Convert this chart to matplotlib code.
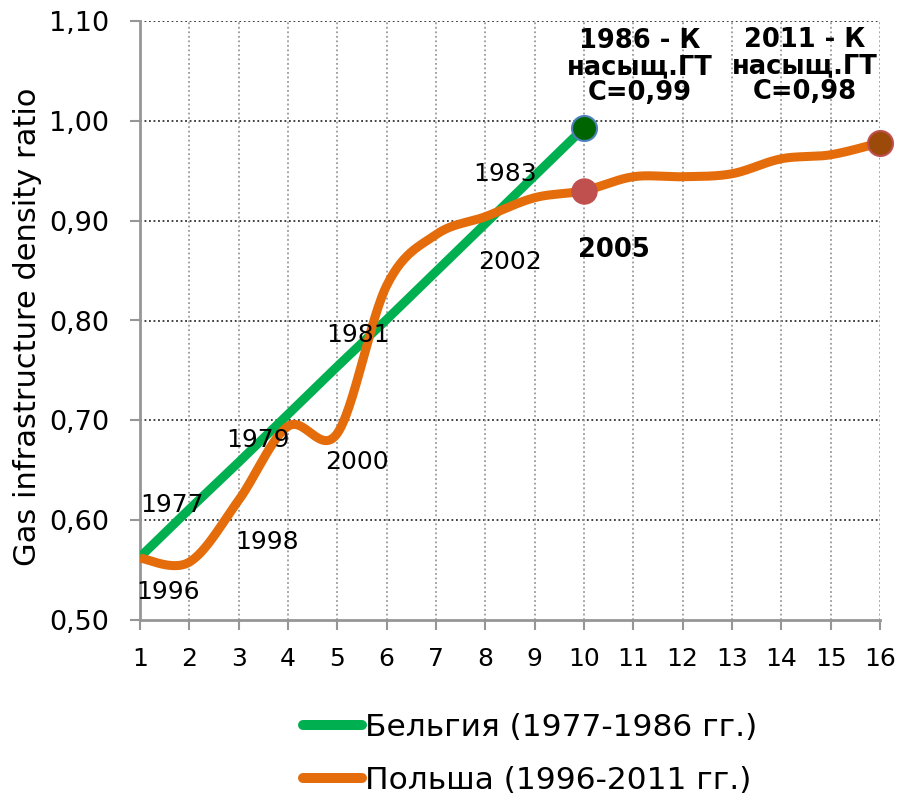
import numpy as np
import matplotlib
matplotlib.use("Agg")
import matplotlib.pyplot as plt
from matplotlib.lines import Line2D
from matplotlib.ticker import FuncFormatter, MultipleLocator

plt.rcParams['font.family'] = ['DejaVu Sans']

# ---- data ----
belgium_x = [1, 2, 3, 4, 5, 6, 7, 8, 9, 10]
belgium_y = [0.563, 0.611, 0.658, 0.706, 0.754, 0.801, 0.849, 0.897, 0.945, 0.993]
poland_x = list(range(1, 17))
poland_y = [0.562, 0.558, 0.620, 0.694, 0.687, 0.835, 0.886, 0.904, 0.923, 0.930,
            0.944, 0.944, 0.947, 0.962, 0.966, 0.978]
belgium_labels = [("1977", 1.65, 0.615), ("1979", 3.39, 0.680),
                  ("1981", 5.42, 0.785), ("1983", 8.40, 0.947)]
poland_labels = [("1996", 1.57, 0.528), ("1998", 3.57, 0.578),
                 ("2000", 5.40, 0.658), ("2002", 8.50, 0.859)]
bold_labels = [("2005", 10.61, 0.871),
               ("1986 - К\nнасыщ.ГТ\nС=0,99", 11.14, 1.054),
               ("2011 - К\nнасыщ.ГТ\nС=0,98", 14.48, 1.055)]
legend_labels = ["Бельгия (1977-1986 гг.)", "Польша (1996-2011 гг.)"]
ylabel = "Gas infrastructure density ratio"

GREEN = "#00B050"
ORANGE = "#E46C0A"


def smooth(xs, ys, n=30):
    """Excel-like smoothed line (Catmull-Rom Bezier)."""
    P = np.column_stack([xs, ys]).astype(float)
    ext = np.vstack([P[0], P, P[-1]])
    out = []
    t = np.linspace(0, 1, n)[:, None]
    for i in range(len(P) - 1):
        p0, p1, p2, p3 = ext[i], ext[i + 1], ext[i + 2], ext[i + 3]
        c1 = p1 + (p2 - p0) / 6.0
        c2 = p2 - (p3 - p1) / 6.0
        seg = ((1 - t) ** 3) * p1 + 3 * ((1 - t) ** 2) * t * c1 + 3 * (1 - t) * t ** 2 * c2 + t ** 3 * p2
        out.append(seg if i == 0 else seg[1:])
    out = np.vstack(out)
    return out[:, 0], out[:, 1]


fig = plt.figure(figsize=(9.1, 7.98), dpi=100)
ax = fig.add_axes([140 / 910, 1 - 620 / 798, 740 / 910, 599 / 798])

ax.set_xlim(1, 16)
ax.set_ylim(0.5, 1.1)
ax.xaxis.set_major_locator(MultipleLocator(1))
ax.yaxis.set_major_locator(MultipleLocator(0.1))
ax.yaxis.set_major_formatter(FuncFormatter(lambda v, p: f"{v:.2f}".replace(".", ",")))

# grid
for yv in np.arange(0.6, 1.101, 0.1):
    ax.axhline(yv, color="#303030", lw=1.3, ls=(0, (1, 1.5)), zorder=1)
for xv in range(2, 17):
    ax.axvline(xv, color="#9a9a9a", lw=1.3, ls=(0, (1, 1.5)), zorder=1)

for s in ["top", "right"]:
    ax.spines[s].set_visible(False)
for s in ["left", "bottom"]:
    ax.spines[s].set_color("#969696")
    ax.spines[s].set_linewidth(2)
ax.tick_params(axis="both", colors="#969696", width=1.5, length=7.2, labelcolor="black")
ax.tick_params(axis="x", pad=12, labelsize=18)
ax.tick_params(axis="y", pad=15, labelsize=19.5)
ax.set_ylabel(ylabel, fontsize=22, labelpad=0)
ax.yaxis.set_label_coords(-0.133, 0.49)

# lines
ax.plot(belgium_x, belgium_y, color=GREEN, lw=6.5, solid_capstyle="butt", zorder=3)
sx, sy = smooth(poland_x, poland_y)
ax.plot(sx, sy, color=ORANGE, lw=6.5, solid_capstyle="butt", zorder=3)

# markers
ax.plot(belgium_x[-1], belgium_y[-1], "o", ms=18, mfc="#006400", mec="#4F81BD", mew=1.5, zorder=5,
        clip_on=False)
ax.plot(poland_x[9], poland_y[9], "o", ms=18, mfc="#C0504D", mec="#C0504D", mew=1, zorder=5,
        clip_on=False)
ax.plot(poland_x[-1], poland_y[-1], "o", ms=18, mfc="#9C4A0A", mec="#C0504D", mew=1.5, zorder=5,
        clip_on=False)

for txt, x, y in belgium_labels + poland_labels:
    ax.text(x, y, txt, ha="center", va="center", fontsize=18, zorder=6)
for txt, x, y in bold_labels:
    ax.text(x, y, txt, ha="center", va="center", fontsize=18.5, fontweight="bold",
            linespacing=1.0, zorder=6, clip_on=False)

handles = [Line2D([0], [0], color=GREEN, lw=7.2, solid_capstyle="round"),
           Line2D([0], [0], color=ORANGE, lw=7.2, solid_capstyle="round")]
fig.legend(handles, legend_labels, loc="center", bbox_to_anchor=(530 / 910, 1 - 754 / 798),
           frameon=False, fontsize=22.5, handlelength=1.9, handletextpad=0.1,
           labelspacing=0.75, borderpad=0, borderaxespad=0)

fig.savefig("out.png", dpi=100)
